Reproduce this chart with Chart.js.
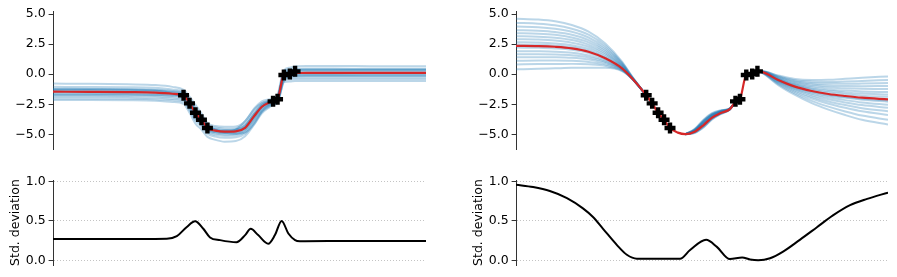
<!DOCTYPE html>
<html>
<head>
<meta charset="utf-8">
<script src="https://cdn.jsdelivr.net/npm/chart.js@4.4.1/dist/chart.umd.min.js"></script>
<style>
  body { margin: 0; background: #fff; width: 897px; height: 277px; overflow: hidden; position: relative; }
  canvas { position: absolute; }
</style>
</head>
<body>
<canvas id="fitLeft" width="430" height="160" style="left:0;top:0"></canvas>
<canvas id="fitRight" width="430" height="160" style="left:463px;top:0"></canvas>
<canvas id="stdLeft" width="430" height="112" style="left:0;top:165px"></canvas>
<canvas id="stdRight" width="430" height="112" style="left:463px;top:165px"></canvas>
<script>
// observations (shared by both models)
const obsX = [3.5, 3.66, 3.82, 3.98, 4.14, 5.9, 6.02, 6.19, 6.35, 6.49];
const obsY = [-1.74, -2.42, -3.2, -3.78, -4.47, -2.25, -2.08, -0.07, 0.02, 0.24];

const topTicks = [-5, -2.5, 0, 2.5, 5];
const stdTicks = [0, 0.5, 1];

// left model: posterior mean + samples
const xLeft = [0, 1, 2, 2.75, 3.2, 3.5, 3.66, 3.82, 3.98, 4.14, 4.35, 4.6, 4.9, 5.15, 5.4, 5.6, 5.8, 5.9, 6.02, 6.19, 6.35, 6.49, 6.8, 7.5, 8.5, 10];
const meanLeft = [-1.45, -1.46, -1.48, -1.52, -1.62, -1.74, -2.42, -3.2, -3.78, -4.47, -4.68, -4.77, -4.74, -4.45, -3.45, -2.7, -2.35, -2.25, -2.08, -0.07, 0.02, 0.1, 0.12, 0.12, 0.12, 0.12];
const samplesLeft = [
  [-0.78, -0.8, -0.84, -0.9, -1.05, -1.3, -1.85, -2.55, -3.25, -4.05, -4.3, -4.37, -4.33, -3.9, -2.82, -2.25, -2.08, -2.02, -1.82, 0.3, 0.55, 0.65, 0.68, 0.68, 0.67, 0.66],
  [-1.05, -1.06, -1.08, -1.12, -1.26, -1.47, -2.08, -2.82, -3.46, -4.22, -4.43, -4.52, -4.48, -4.12, -3.08, -2.43, -2.18, -2.1, -1.93, 0.17, 0.37, 0.45, 0.47, 0.47, 0.46, 0.46],
  [-1.22, -1.23, -1.25, -1.28, -1.4, -1.56, -2.22, -2.98, -3.6, -4.33, -4.53, -4.63, -4.58, -4.27, -3.28, -2.56, -2.26, -2.16, -1.99, 0.06, 0.24, 0.32, 0.34, 0.34, 0.33, 0.33],
  [-1.33, -1.34, -1.36, -1.4, -1.5, -1.64, -2.33, -3.08, -3.68, -4.39, -4.6, -4.7, -4.66, -4.36, -3.36, -2.63, -2.3, -2.2, -2.03, 0.01, 0.12, 0.21, 0.23, 0.23, 0.22, 0.22],
  [-1.42, -1.43, -1.45, -1.49, -1.59, -1.71, -2.39, -3.16, -3.75, -4.45, -4.66, -4.75, -4.72, -4.43, -3.43, -2.69, -2.34, -2.24, -2.07, -0.05, 0.05, 0.13, 0.14, 0.14, 0.14, 0.14],
  [-1.52, -1.53, -1.55, -1.59, -1.69, -1.81, -2.48, -3.27, -3.84, -4.53, -4.74, -4.83, -4.8, -4.5, -3.52, -2.76, -2.4, -2.29, -2.11, -0.13, -0.03, 0.04, 0.05, 0.05, 0.06, 0.06],
  [-1.62, -1.63, -1.65, -1.69, -1.78, -1.9, -2.58, -3.4, -3.94, -4.61, -4.82, -4.91, -4.88, -4.58, -3.6, -2.83, -2.46, -2.34, -2.16, -0.2, -0.1, -0.05, -0.04, -0.04, -0.03, -0.03],
  [-1.75, -1.75, -1.77, -1.81, -1.9, -2.03, -2.7, -3.53, -4.06, -4.7, -4.91, -5.0, -4.96, -4.68, -3.72, -2.93, -2.53, -2.39, -2.21, -0.3, -0.2, -0.16, -0.15, -0.15, -0.14, -0.14],
  [-1.88, -1.88, -1.9, -1.94, -2.03, -2.16, -2.86, -3.68, -4.18, -4.8, -5.03, -5.1, -5.06, -4.78, -3.83, -3.03, -2.6, -2.44, -2.27, -0.4, -0.3, -0.26, -0.26, -0.26, -0.25, -0.25],
  [-2.02, -2.02, -2.03, -2.07, -2.15, -2.28, -2.98, -3.83, -4.33, -4.93, -5.18, -5.28, -5.23, -4.93, -3.98, -3.13, -2.68, -2.49, -2.32, -0.53, -0.43, -0.4, -0.4, -0.4, -0.39, -0.39],
  [-2.15, -2.15, -2.16, -2.2, -2.3, -2.45, -3.2, -4.1, -4.6, -5.2, -5.45, -5.6, -5.55, -5.15, -4.15, -3.25, -2.75, -2.55, -2.4, -0.65, -0.6, -0.57, -0.57, -0.57, -0.56, -0.56],
  [-1.2, -1.22, -1.25, -1.35, -1.6, -1.95, -2.7, -3.45, -4.05, -4.6, -4.8, -4.85, -4.6, -3.9, -2.9, -2.4, -2.25, -2.1, -1.7, 0.3, 0.38, 0.4, 0.4, 0.4, 0.4, 0.4],
  [-1.7, -1.7, -1.71, -1.72, -1.75, -1.8, -2.2, -2.9, -3.5, -4.2, -4.62, -4.85, -4.95, -4.85, -4.1, -3.1, -2.5, -2.35, -2.25, -0.6, -0.15, -0.1, -0.08, -0.08, -0.08, -0.08],
  [-1.28, -1.29, -1.3, -1.33, -1.45, -1.62, -2.3, -3.05, -3.62, -4.35, -4.58, -4.68, -4.6, -4.25, -3.25, -2.55, -2.25, -2.15, -1.97, 0.03, 0.25, 0.36, 0.38, 0.38, 0.37, 0.37],
];

// right model: posterior mean + samples (samples only listed where they leave the mean)
const xRight = [0, 0.6, 1.05, 1.5, 1.95, 2.4, 2.85, 3.12, 3.5, 3.66, 3.82, 3.98, 4.14, 4.35, 4.55, 4.8, 5.05, 5.27, 5.5, 5.75, 5.9, 6.02, 6.19, 6.35, 6.49, 6.6, 7.05, 7.5, 7.95, 8.4, 8.85, 9.3, 10];
const meanRight = [2.36, 2.34, 2.28, 2.15, 1.87, 1.32, 0.49, -0.34, -1.74, -2.42, -3.2, -3.78, -4.47, -4.85, -4.98, -4.78, -4.2, -3.6, -3.22, -2.9, -2.3, -2.08, -0.07, 0.02, 0.22, 0.2, -0.48, -1.03, -1.39, -1.64, -1.81, -1.95, -2.08];
const xFanStart = xRight.slice(0, 9);
const xFanMid = xRight.slice(14, 21);
const xFanEnd = xRight.slice(24, 33);
const samplesFanStart = [
  [4.61, 4.54, 4.4, 4.09, 3.54, 2.56, 1.05, -0.18, -1.74],
  [4.26, 4.2, 4.07, 3.78, 3.28, 2.37, 0.97, -0.21, -1.74],
  [3.96, 3.91, 3.78, 3.53, 3.05, 2.2, 0.89, -0.23, -1.74],
  [3.66, 3.61, 3.5, 3.27, 2.83, 2.04, 0.82, -0.25, -1.74],
  [3.41, 3.37, 3.27, 3.05, 2.65, 1.9, 0.75, -0.27, -1.74],
  [3.16, 3.12, 3.03, 2.84, 2.46, 1.76, 0.69, -0.28, -1.74],
  [2.91, 2.88, 2.8, 2.62, 2.28, 1.62, 0.63, -0.3, -1.74],
  [2.66, 2.63, 2.56, 2.41, 2.09, 1.49, 0.57, -0.32, -1.74],
  [2.46, 2.44, 2.37, 2.24, 1.94, 1.38, 0.52, -0.33, -1.74],
  [2.21, 2.19, 2.14, 2.03, 1.77, 1.26, 0.47, -0.34, -1.74],
  [1.91, 1.9, 1.87, 1.78, 1.56, 1.14, 0.44, -0.35, -1.74],
  [1.66, 1.66, 1.64, 1.57, 1.39, 1.04, 0.41, -0.35, -1.74],
  [1.41, 1.42, 1.41, 1.36, 1.22, 0.94, 0.38, -0.36, -1.74],
  [1.11, 1.13, 1.13, 1.11, 1.02, 0.82, 0.34, -0.37, -1.74],
  [0.81, 0.84, 0.85, 0.86, 0.82, 0.7, 0.3, -0.37, -1.74],
  [0.41, 0.45, 0.49, 0.53, 0.54, 0.54, 0.26, -0.38, -1.74],
];
const samplesFanMid = [
  [-4.98, -4.56, -3.75, -3.24, -3.0, -2.83, -2.3],
  [-4.98, -4.61, -3.85, -3.32, -3.05, -2.85, -2.3],
  [-4.98, -4.66, -3.95, -3.4, -3.1, -2.86, -2.3],
  [-4.98, -4.71, -4.05, -3.48, -3.15, -2.88, -2.3],
  [-4.98, -4.76, -4.15, -3.56, -3.2, -2.89, -2.3],
  [-4.98, -4.83, -4.3, -3.68, -3.27, -2.92, -2.3],
  [-4.98, -4.63, -3.9, -3.36, -3.07, -2.86, -2.3],
  [-4.98, -4.68, -4.0, -3.44, -3.12, -2.87, -2.3],
  [-4.98, -4.88, -4.4, -3.76, -3.32, -2.93, -2.3],
  [-4.98, -4.58, -3.8, -3.28, -3.02, -2.84, -2.3],
  [-4.98, -4.73, -4.1, -3.52, -3.17, -2.89, -2.3],
  [-4.98, -4.81, -4.25, -3.64, -3.25, -2.91, -2.3],
  [-4.98, -4.72, -4.08, -3.5, -3.16, -2.88, -2.3],
  [-4.98, -4.64, -3.92, -3.38, -3.08, -2.86, -2.3],
  [-4.98, -4.77, -4.18, -3.58, -3.21, -2.9, -2.3],
  [-4.98, -4.86, -4.35, -3.72, -3.3, -2.92, -2.3],
];
const samplesFanEnd = [
  [0.22, 0.18, -0.62, -1.26, -1.73, -2.07, -2.34, -2.56, -2.78],
  [0.22, 0.24, -0.21, -0.58, -0.74, -0.8, -0.8, -0.78, -0.73],
  [0.22, 0.14, -0.9, -1.72, -2.4, -2.94, -3.39, -3.78, -4.18],
  [0.22, 0.21, -0.44, -0.96, -1.29, -1.52, -1.66, -1.78, -1.88],
  [0.22, 0.26, -0.1, -0.4, -0.48, -0.46, -0.38, -0.3, -0.18],
  [0.22, 0.19, -0.52, -1.1, -1.49, -1.76, -1.96, -2.12, -2.28],
  [0.22, 0.16, -0.74, -1.46, -2.01, -2.45, -2.79, -3.08, -3.38],
  [0.22, 0.22, -0.36, -0.83, -1.1, -1.27, -1.36, -1.43, -1.48],
  [0.22, 0.2, -0.5, -1.06, -1.44, -1.7, -1.89, -2.04, -2.18],
  [0.22, 0.17, -0.68, -1.36, -1.87, -2.26, -2.56, -2.82, -3.08],
  [0.22, 0.23, -0.26, -0.67, -0.86, -0.96, -0.98, -0.99, -0.98],
  [0.22, 0.19, -0.57, -1.18, -1.61, -1.92, -2.15, -2.34, -2.53],
  [0.22, 0.21, -0.4, -0.9, -1.2, -1.39, -1.51, -1.6, -1.68],
  [0.22, 0.15, -0.82, -1.59, -2.21, -2.69, -3.09, -3.43, -3.78],
  [0.22, 0.25, -0.16, -0.5, -0.62, -0.65, -0.61, -0.56, -0.48],
  [0.22, 0.23, -0.31, -0.75, -0.98, -1.11, -1.17, -1.21, -1.23],
];

// posterior standard deviations
const stdXLeft = [0, 1.5, 2.6, 3.05, 3.32, 3.58, 3.81, 4.03, 4.21, 4.48, 4.92, 5.15, 5.3, 5.5, 5.77, 5.95, 6.13, 6.31, 6.49, 6.62, 8, 10];
const stdLeft = [0.27, 0.27, 0.27, 0.272, 0.306, 0.42, 0.495, 0.4, 0.29, 0.256, 0.23, 0.32, 0.4, 0.32, 0.21, 0.32, 0.5, 0.34, 0.256, 0.243, 0.244, 0.245];
const stdXRight = [0, 0.46, 0.91, 1.37, 1.8, 2.07, 2.34, 2.72, 2.98, 3.25, 3.87, 4.41, 4.68, 5.11, 5.4, 5.75, 6.08, 6.29, 6.51, 6.83, 7.18, 7.63, 8.09, 8.52, 8.98, 9.44, 10];
const stdRight = [0.96, 0.93, 0.88, 0.79, 0.66, 0.55, 0.4, 0.19, 0.07, 0.02, 0.02, 0.02, 0.13, 0.26, 0.17, 0.015, 0.035, 0.01, 0.0, 0.025, 0.11, 0.26, 0.42, 0.57, 0.7, 0.78, 0.86];

const FONT = { family: "DejaVu Sans", size: 12.5 };
const AXIS = "#333";
const SAMPLE = "rgba(31, 119, 180, 0.3)";

const toPoints = (xs, ys) => xs.map((x, i) => ({ x, y: ys[i] }));
const fmt = (v) => v.toFixed(1).replace("-", "\u2212");

function baseOptions(padding, yMin, yMax, ticks) {
  return {
    responsive: false,
    animation: false,
    events: [],
    layout: { padding, autoPadding: false },
    plugins: { legend: { display: false }, tooltip: { enabled: false } },
    elements: { point: { radius: 0 }, line: { cubicInterpolationMode: "monotone", fill: false } },
    scales: {
      x: { type: "linear", min: 0, max: 10, display: false },
      y: {
        min: yMin,
        max: yMax,
        afterFit: (s) => { s.width = 53; },
        afterBuildTicks: (s) => { s.ticks = ticks.map((v) => ({ value: v })); },
        border: { display: true, color: AXIS, width: 1 },
        grid: { drawOnChartArea: false, tickLength: 4.4, tickColor: AXIS, tickWidth: 1 },
        ticks: { padding: 3, color: "#000", font: FONT, callback: fmt },
      },
    },
  };
}

// higher "order" is painted first, so samples sit under the mean and the points
function fitChart(id, xs, mean, sampleGroups, padRight) {
  const datasets = [];
  sampleGroups.forEach(([sx, list]) => {
    list.forEach((s) => datasets.push({ data: toPoints(sx, s), borderColor: SAMPLE, borderWidth: 2, order: 3 }));
  });
  datasets.push({ data: toPoints(xs, mean), borderColor: "#d62728", borderWidth: 2.2, order: 2 });
  datasets.push({
    data: toPoints(obsX, obsY),
    showLine: false,
    pointStyle: "cross",
    pointRadius: 5.5,
    pointBorderColor: "#000",
    pointBackgroundColor: "#000",
    pointBorderWidth: 4.4,
    order: 1,
  });
  const options = baseOptions({ top: 11, bottom: 10, left: 0, right: padRight }, -6.25, 5.25, topTicks);
  new Chart(document.getElementById(id), { type: "line", data: { datasets }, options });
}

function stdChart(id, xs, ys, padRight) {
  const options = baseOptions({ top: 15, bottom: 12, left: 0, right: padRight }, -0.06, 1.02, stdTicks);
  options.scales.y.grid = {
    drawOnChartArea: true,
    color: "#c4c4c4",
    lineWidth: 1,
    tickLength: 4.4,
    tickColor: AXIS,
    tickWidth: 1,
  };
  options.scales.y.border.dash = [1, 2];
  options.scales.y.title = {
    display: true,
    text: "Std. deviation",
    color: "#000",
    font: FONT,
    padding: { top: 8, bottom: 0 },
  };
  new Chart(document.getElementById(id), {
    type: "line",
    data: { datasets: [{ data: toPoints(xs, ys), borderColor: "#000", borderWidth: 2 }] },
    options,
  });
}

fitChart("fitLeft", xLeft, meanLeft, [[xLeft, samplesLeft]], 4);
fitChart("fitRight", xRight, meanRight, [[xFanStart, samplesFanStart], [xFanMid, samplesFanMid], [xFanEnd, samplesFanEnd]], 5);
stdChart("stdLeft", stdXLeft, stdLeft, 4);
stdChart("stdRight", stdXRight, stdRight, 5);
</script>
</body>
</html>
